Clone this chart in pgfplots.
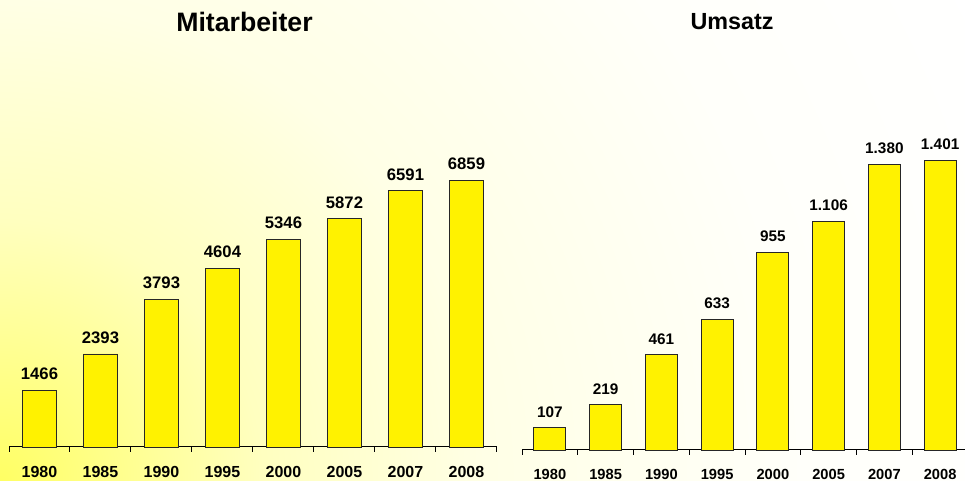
\documentclass[border=0pt]{standalone}
\usepackage{fontspec}
\setmainfont{Liberation Sans}
\usepackage{pgfplots}
\pgfplotsset{compat=1.18}
\pgfdeclareradialshading{bg}{\pgfpointorigin}{rgb(0bp)=(1,1,0.39); rgb(195bp)=(1,1,0.75); rgb(360bp)=(1,1,0.9); rgb(600bp)=(1,1,0.98); rgb(820bp)=(1,1,1)}
\pgfplotsset{
  mybars/.style={
    scale only axis, anchor=south west, clip=false,
    xmin=-0.5, xmax=7.5, ymin=0,
    axis x line*=bottom, axis y line=none,
    ybar,
    xtick={0,...,7},
    xticklabels={1980,1985,1990,1995,2000,2005,2007,2008},
    major tick length=0pt,
    minor xtick={-0.5,0.5,...,7.5},
    minor tick length=3.75pt,
    tick align=outside,
    tick style={black, line width=0.75pt},
    axis line style={black, line width=0.75pt},
    xticklabel style={anchor=north, inner sep=0pt, yshift=-14pt},
    nodes near coords,
    nodes near coords style={anchor=south, inner sep=0pt, yshift=7.5pt},
    /pgf/number format/assume math mode=true,
    /pgf/number format/fixed,
    /pgf/number format/precision=0,
  }
}
\begin{document}
\begin{tikzpicture}
\useasboundingbox (0,0) rectangle (723.75pt,360.75pt);
\begin{scope}
\clip (0,0) rectangle (723.75pt,360.75pt);
\node[inner sep=0pt] at (0,0) {\pgfuseshading{bg}};
\end{scope}
\node[font=\bfseries\fontsize{20}{24}\selectfont] at (183.4pt,344.25pt) {Mitarbeiter};
\node[font=\bfseries\fontsize{17.5}{21}\selectfont] at (549pt,344.6pt) {Umsatz};

\begin{axis}[mybars, at={(6.75pt,25.5pt)}, width=366pt, height=233.25pt, ymax=8000,
  bar width=25.9pt,
  /pgf/number format/1000 sep={},
  xticklabel style={font=\bfseries\fontsize{12}{12}\selectfont},
  nodes near coords style={font=\bfseries\fontsize{12.5}{12.5}\selectfont}]
\addplot[fill=yellow, draw=black!85, line width=0.6pt] coordinates {
(0,1466) (1,2393) (2,3793) (3,4604) (4,5346) (5,5872) (6,6591) (7,6859)};
\end{axis}

\begin{axis}[mybars, at={(391.5pt,23.25pt)}, width=334.5pt, height=248.25pt, ymax=1600,
  bar width=24pt,
  /pgf/number format/1000 sep={.},
  xticklabel style={font=\bfseries\fontsize{11}{11}\selectfont},
  nodes near coords style={font=\bfseries\fontsize{11.5}{11.5}\selectfont}]
\addplot[fill=yellow, draw=black!85, line width=0.6pt] coordinates {
(0,107) (1,219) (2,461) (3,633) (4,955) (5,1106) (6,1380) (7,1401)};
\end{axis}
\end{tikzpicture}
\end{document}
